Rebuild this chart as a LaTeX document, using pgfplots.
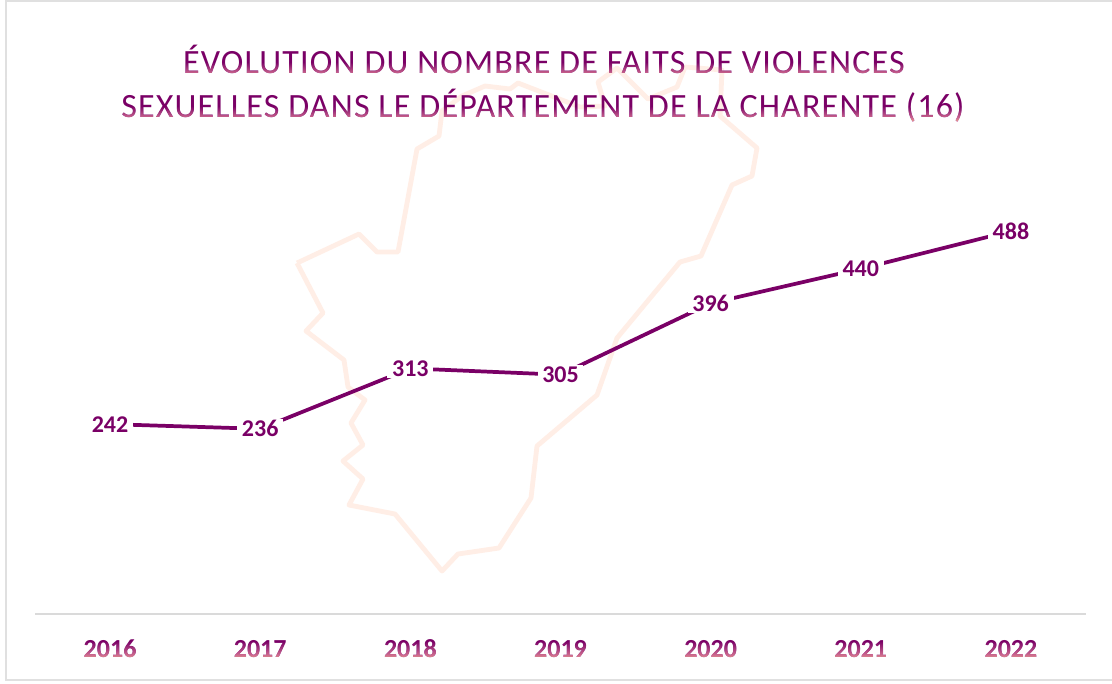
\documentclass[border=0pt]{standalone}
\usepackage{fontspec}
\setmainfont{Carlito}
\newfontfamily\titlefont[LetterSpace=3.5]{Carlito}
\usepackage{pgfplots}
\pgfplotsset{compat=1.18}
\usetikzlibrary{shadings}
\definecolor{plum}{HTML}{7A0066}
\definecolor{plumlow}{HTML}{C8648C}
\definecolor{plumend}{HTML}{E8A090}
\definecolor{mapc}{HTML}{FFEEE6}
\definecolor{framec}{HTML}{E0E0E0}
\definecolor{basec}{HTML}{DADADA}
\pgfdeclareverticalshading{txtfade}{100bp}{color(0bp)=(plumend); color(25bp)=(plumend); color(32.5bp)=(plumlow); color(50bp)=(plum); color(100bp)=(plum)}
\begin{document}
\begin{tikzpicture}
\useasboundingbox (0,0) rectangle (834pt,512.25pt);
\fill[white] (0,0) rectangle (834pt,512.25pt);
% background: frame, department outline, title (pixel coordinates)
\begin{axis}[at={(0,0)},anchor=south west,hide axis,scale only axis,width=834pt,height=512.25pt,
  xmin=0,xmax=1112,ymin=0,ymax=683,y dir=reverse]
\addplot[draw=framec,line width=1.6pt] coordinates {(1130,1)(6,1)(6,680)(1130,680)};
\addplot[draw=mapc,line width=3.6pt,line join=round] coordinates {
(297,263)(359,234)(377,252)(398,252)(417,149)(439,136)(442,111)(462,96)(485,86)(510,89)(518,83)
(580,107)(605,106)(598,82)(617,68)(648,99)(677,87)(685,67)(722,70)(720,116)(757,148)(752,176)
(732,185)(701,256)(680,262)(617,338)(597,395)(537,446)(531,498)(499,548)(458,554)(442,571)
(395,514)(349,505)(363,479)(343,461)(363,445)(351,423)(365,400)(348,387)(344,360)(306,331)(323,313)(297,263)};
\node[font=\titlefont\fontsize{25.5pt}{30pt}\selectfont,text=plum,anchor=base,inner sep=0pt] at (axis cs:544,73) {ÉVOLUTION DU NOMBRE DE FAITS DE VIOLENCES};
\node[font=\titlefont\fontsize{25.5pt}{30pt}\selectfont,text=plum,anchor=base,inner sep=0pt] at (axis cs:543,117) {SEXUELLES DANS LE DÉPARTEMENT DE LA CHARENTE (16)};
\end{axis}
% data
\begin{axis}[at={(26.25pt,51.75pt)},anchor=south west,scale only axis,width=788.25pt,height=353.07pt,
  xmin=2015.5,xmax=2022.5,ymin=0,ymax=600,
  axis x line=bottom,axis y line=none,
  axis line style={-,draw=basec,line width=1.5pt},
  xtick={2016,2017,2018,2019,2020,2021,2022},
  xticklabels={2016,2017,2018,2019,2020,2021,2022},
  major tick length=0pt,
  xticklabel style={anchor=center,yshift=-26.25pt,text=plum,font=\bfseries\fontsize{19.5pt}{22pt}\selectfont},
  clip=false]
\addplot[draw=plum,line width=2.8pt,line cap=butt,
  nodes near coords={\pgfmathprintnumber[/pgf/number format/assume math mode=true]{\pgfplotspointmeta}},
  nodes near coords align={center},
  every node near coord/.append style={anchor=center,fill=white,text=plum,inner xsep=3.5pt,inner ysep=1pt,
    font=\bfseries\fontsize{18pt}{20pt}\selectfont}]
coordinates {(2016,242)(2017,236)(2018,313)(2019,305)(2020,396)(2021,440)(2022,488)};
\end{axis}
% vertical colour fade of title and year labels
\begin{scope}[blend mode=lighten]
\shade[shading=txtfade] (0pt,477.5pt) rectangle (834pt,454pt);
\shade[shading=txtfade] (0pt,444.5pt) rectangle (834pt,421pt);
\shade[shading=txtfade] (0pt,45.4pt) rectangle (834pt,17.6pt);
\end{scope}
\end{tikzpicture}
\end{document}
